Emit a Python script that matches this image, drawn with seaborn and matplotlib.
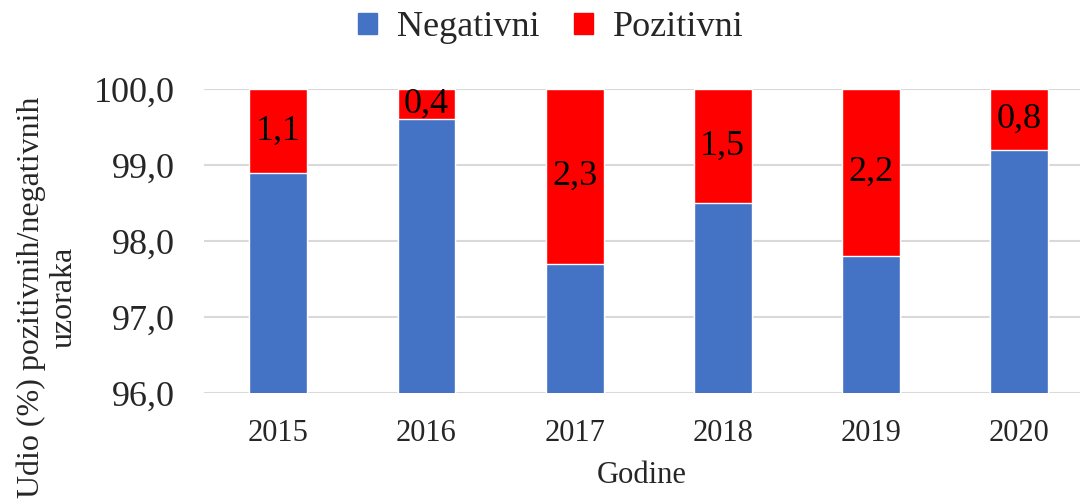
import matplotlib
matplotlib.use("Agg")
import matplotlib.pyplot as plt
import matplotlib.patches as mpatches
import seaborn as sns
import pandas as pd

# data
godine = ["2015", "2016", "2017", "2018", "2019", "2020"]
pozitivni = [1.1, 0.4, 2.3, 1.5, 2.2, 0.8]
negativni = [98.9, 99.6, 97.7, 98.5, 97.8, 99.2]

blue = "#4472C4"
red = "#FF0000"

sns.set_theme(style="white")
plt.rcParams["font.family"] = ["Liberation Serif", "DejaVu Serif"]

df = pd.DataFrame({"Godine": godine, "Negativni": negativni, "Pozitivni": pozitivni})
df["Ukupno"] = df["Negativni"] + df["Pozitivni"]

fig = plt.figure(figsize=(10.8, 4.99), dpi=100)
ax = fig.add_axes([0.189, 0.2124, 0.811, 0.6092])

# stacked bars: total (red) drawn first, negative share (blue) on top of it
sns.barplot(data=df, x="Godine", y="Ukupno", color=red, width=0.39,
            saturation=1, ax=ax, zorder=2)
sns.barplot(data=df, x="Godine", y="Negativni", color=blue, width=0.39,
            saturation=1, ax=ax, zorder=3)

for i, (n, p) in enumerate(zip(df["Negativni"], df["Pozitivni"])):
    ax.text(i, n + p / 2, f"{p:.1f}".replace(".", ","), ha="center", va="center",
            fontsize=26, color="black", zorder=4)

ax.set_ylim(96, 100)
ax.set_xlim(-0.5, 5.41)
ax.set_yticks([96, 97, 98, 99, 100])
ax.set_yticklabels([f"{v:.1f}".replace(".", ",") for v in [96, 97, 98, 99, 100]], fontsize=26)
ax.tick_params(axis="x", labelsize=22, length=0, pad=19)
ax.tick_params(axis="y", length=0, pad=21)
ax.yaxis.grid(True, color="#d9d9d9", linewidth=1.5, zorder=0)
ax.set_axisbelow(True)
for s in ax.spines.values():
    s.set_visible(False)

ax.set_xlabel("Godine", fontsize=22, labelpad=9)
ax.set_ylabel("")
fig.text(0.044, 0.405, "Udio (%) pozitivnih/negativnih\nuzoraka", rotation=90,
         ha="center", va="center", multialignment="center", fontsize=23,
         linespacing=1.2)

handles = [mpatches.Patch(color=blue, label="Negativni"),
           mpatches.Patch(color=red, label="Pozitivni")]
fig.legend(handles=handles, loc="center", bbox_to_anchor=(0.51, 0.944), ncol=2,
           frameon=False, fontsize=26, handlelength=0.52, handleheight=0.52,
           handletextpad=0.55, columnspacing=0.95)

fig.savefig("out.png", dpi=100)
